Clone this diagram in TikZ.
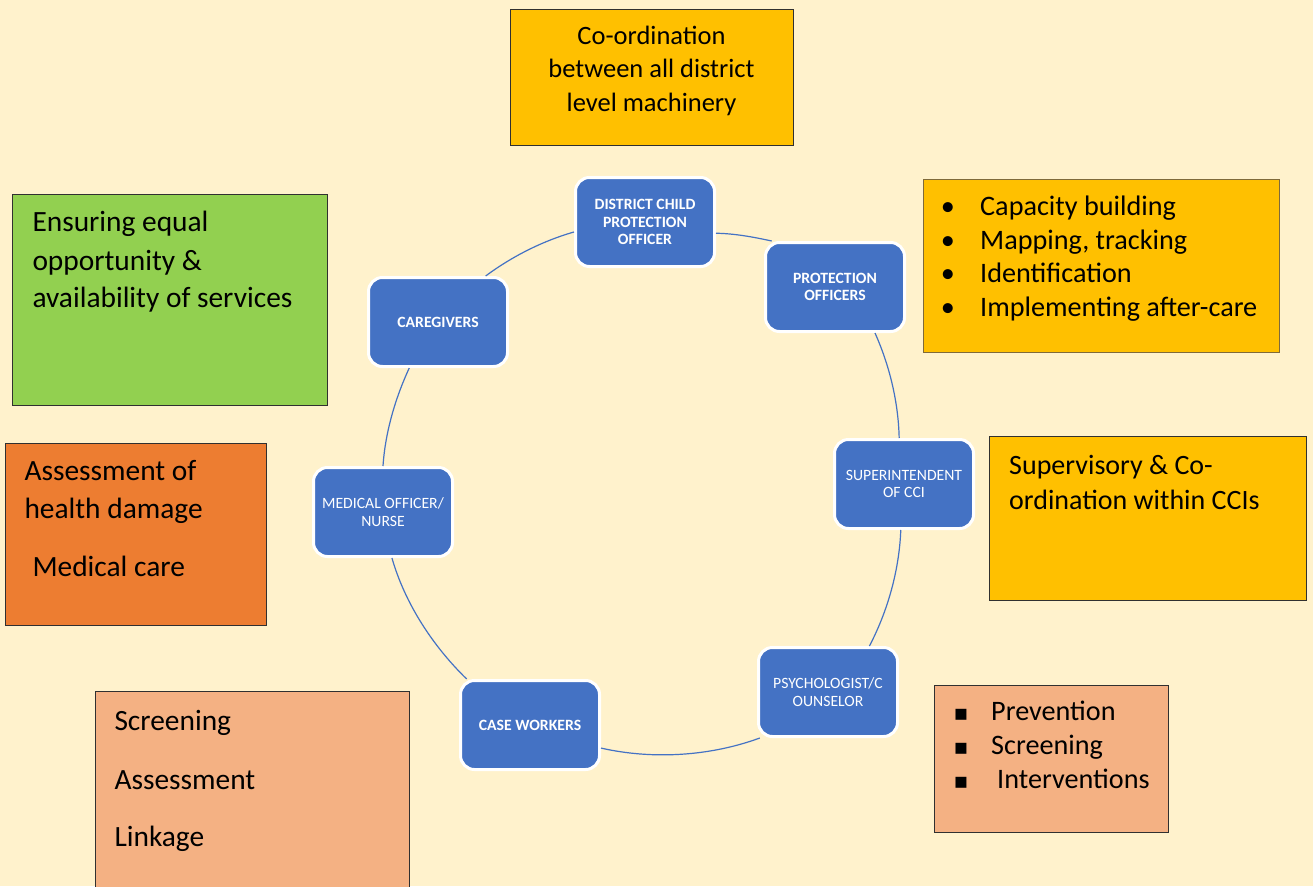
\documentclass[tikz,border=0pt]{standalone}
\usepackage{fontspec}
\setmainfont{Carlito}
\newfontfamily\dejavu{DejaVu Sans}
\definecolor{bg}{HTML}{FFF2CC}
\definecolor{nodeblue}{HTML}{4472C4}
\definecolor{gold}{HTML}{FFC000}
\definecolor{grn}{HTML}{92D050}
\definecolor{orng}{HTML}{ED7D31}
\definecolor{peach}{HTML}{F4B183}
\definecolor{edgecol}{HTML}{303030}
\definecolor{edgebrown}{HTML}{7F6A3A}
\begin{document}
\begin{tikzpicture}[x=1pt,y=1pt,
  role/.style={rectangle, rounded corners=14pt, fill=nodeblue, draw=white, line width=3pt,
    minimum width=139pt, minimum height=89pt, text=white, align=center,
    font=\fontsize{15.7}{17.5}\selectfont, inner sep=2pt},
  rolebold/.style={role, font=\fontsize{15.7}{17.5}\selectfont\bfseries},
  infobox/.style={rectangle, draw=edgecol, line width=1pt, anchor=north west, inner sep=0pt},
  txt/.style={anchor=base west, inner sep=0pt},
  ctxt/.style={anchor=base, inner sep=0pt, font=\fontsize{26.5}{34}\selectfont},
  bigtxt/.style={txt, font=\fontsize{29.4}{34}\selectfont},
  midtxt/.style={txt, font=\fontsize{28.2}{34}\selectfont},
  link/.style={draw=nodeblue, line width=1.2pt, looseness=0.85}]
\useasboundingbox (0,0) rectangle (1313,-886);
\fill[bg] (0,0) rectangle (1313,-886);
\clip (0,0) rectangle (1313,-886);

% info boxes
\node[infobox, fill=gold, minimum width=283pt, minimum height=136pt] (topbox) at (510,-9) {};
\node[infobox, fill=grn, minimum width=315pt, minimum height=211pt] (greenbox) at (12,-194) {};
\node[infobox, fill=orng, minimum width=261pt, minimum height=182pt] (orangebox) at (5,-443) {};
\node[infobox, fill=gold, minimum width=317pt, minimum height=164pt] (supbox) at (989,-436) {};
\node[infobox, fill=gold, draw=edgebrown, minimum width=356pt, minimum height=173pt] (pobox) at (923,-179) {};
\node[infobox, fill=peach, minimum width=314pt, minimum height=220pt] (blbox) at (95,-691) {};
\node[infobox, fill=peach, minimum width=234pt, minimum height=147pt] (brbox) at (934,-685) {};

% texts
\node[ctxt] (t1) at (651.5,-44.3) {Co-ordination};
\node[ctxt] (t2) at (651.5,-77.8) {between all district};
\node[ctxt] (t3) at (651.5,-111.5) {level machinery};

\node[bigtxt] (g1) at (32.3,-231.7) {Ensuring equal};
\node[bigtxt] (g2) at (32.3,-270) {opportunity \&};
\node[bigtxt] (g3) at (32.3,-307.7) {availability of services};

\node[bigtxt] (o1) at (24.3,-480.7) {Assessment of};
\node[bigtxt] (o2) at (24.3,-518.3) {health damage};
\node[bigtxt] (o3) at (32.3,-576.7) {Medical care};

\node[bigtxt] (b1) at (114.3,-730.7) {Screening};
\node[bigtxt] (b2) at (114.3,-789) {Assessment};
\node[bigtxt] (b3) at (114.3,-846.7) {Linkage};

\node[txt, font=\fontsize{28}{34}\selectfont] (s1) at (1009,-474) {Supervisory \& Co-};
\node[txt, font=\fontsize{28}{34}\selectfont] (s2) at (1009,-509) {ordination within CCIs};

\foreach \i/\y/\t in {1/215.7/Capacity building, 2/249.3/{Mapping, tracking}, 3/282.7/Identification, 4/316/Implementing after-care}{
  \node[midtxt, anchor=base] (pb\i) at (948,-\y) {•};
  \node[midtxt] (p\i) at (980,-\y) {\t};
}

\foreach \i/\y/\x/\t in {1/720.7/991/Prevention, 2/754.4/991/Screening, 3/788/997/Interventions}{
  \node[txt, anchor=base, font=\dejavu\fontsize{22}{26}\selectfont] (rb\i) at (961,-\y) {▪};
  \node[midtxt] (r\i) at (\x,-\y) {\t};
}

% role nodes
\node[rolebold] (dcpo) at (645,-222) {DISTRICT CHILD\\PROTECTION\\OFFICER};
\node[rolebold] (po) at (835,-287) {PROTECTION\\OFFICERS};
\node[role] (sup) at (904,-484) {SUPERINTENDENT\\OF CCI};
\node[role] (psy) at (828,-692) {PSYCHOLOGIST/C\\OUNSELOR};
\node[rolebold] (cw) at (530,-725) {CASE WORKERS};
\node[role] (med) at (383,-512) {MEDICAL OFFICER/\\NURSE};
\node[rolebold] (care) at (438,-322) {CAREGIVERS};

% ring connectors
\draw[link] (dcpo.-9.6) to[out=-0.9, in=167.7] (po.144.9);
\draw[link] (po.-49.5) to[out=-65.9, in=91.3] (sup.96.1);
\draw[link] (sup.-94.8) to[out=-92.2, in=62.4] (psy.48.2);
\draw[link] (psy.-146.9) to[out=-159.8, in=-12.8] (cw.-18.2);
\draw[link] (cw.144.8) to[out=135.8, in=-74] (med.-79.4);
\draw[link] (med.90) to[out=86.2, in=-114.8] (care.-122.9);
\draw[link] (care.44.4) to[out=36.6, in=196] (dcpo.-172.2);
\end{tikzpicture}
\end{document}
